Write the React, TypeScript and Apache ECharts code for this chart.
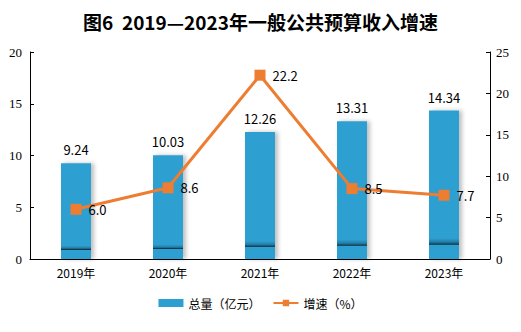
import React, { useEffect, useRef } from "react";
import * as echarts from "echarts";

const categories = ["2019年", "2020年", "2021年", "2022年", "2023年"];
const totals = [9.24, 10.03, 12.26, 13.31, 14.34];
const growth = [6.0, 8.6, 22.2, 8.5, 7.7];
const titleText = "图6  2019—2023年一般公共预算收入增速";
const barName = "总量（亿元）";
const lineName = "增速（%）";

const BLUE = "#2E9FD1";
const ORANGE = "#ED7D31";

export default function App() {
  const ref = useRef<HTMLDivElement>(null);
  useEffect(() => {
    if (!ref.current) return;
    const chart = echarts.init(ref.current, null, { renderer: "svg" });
    const barColor = new echarts.graphic.LinearGradient(0, 0, 0, 1, [
      { offset: 0, color: BLUE },
      { offset: 0.86, color: BLUE },
      { offset: 0.885, color: "#237fa8" },
      { offset: 0.895, color: "#155a78" },
      { offset: 0.9, color: "#0b2f40" },
      { offset: 0.908, color: BLUE },
      { offset: 1, color: BLUE },
    ]);
    chart.setOption({
      animation: false,
      title: {
        text: titleText,
        left: "center",
        top: 7,
        textStyle: {
          fontFamily: "Noto Sans CJK SC",
          fontWeight: "bold",
          fontSize: 19,
          color: "#000",
        },
      },
      legend: {
        bottom: 18,
        left: "center",
        itemWidth: 25,
        itemHeight: 8,
        itemGap: 12,
        textStyle: { fontFamily: "Noto Sans CJK SC", fontSize: 12, color: "#000" },
        data: [
          { name: barName, icon: "rect" },
          { name: lineName },
        ],
      },
      grid: { left: 30, right: 31, top: 52, bottom: 73, containLabel: false },
      xAxis: {
        type: "category",
        data: categories,
        axisLine: { lineStyle: { color: "#000", width: 1 } },
        axisTick: { inside: true, length: 4, lineStyle: { color: "#000" } },
        axisLabel: { fontFamily: "Noto Sans CJK SC", fontSize: 12, color: "#000", margin: 7 },
      },
      yAxis: [
        {
          type: "value",
          min: 0,
          max: 20,
          interval: 5,
          splitLine: { show: false },
          axisLine: { show: true, lineStyle: { color: "#000" } },
          axisTick: { show: true, inside: true, length: 4, lineStyle: { color: "#000" } },
          axisLabel: { fontFamily: "Liberation Serif", fontSize: 13, color: "#000", margin: 8 },
        },
        {
          type: "value",
          min: 0,
          max: 25,
          interval: 5,
          splitLine: { show: false },
          axisLine: { show: true, lineStyle: { color: "#000" } },
          axisTick: { show: true, inside: true, length: 4, lineStyle: { color: "#000" } },
          axisLabel: { fontFamily: "Liberation Serif", fontSize: 13, color: "#000", margin: 6 },
        },
      ],
      series: [
        {
          name: barName,
          type: "bar",
          data: totals,
          barWidth: 30,
          itemStyle: {
            color: barColor,
            shadowColor: "rgba(0,0,0,0.25)",
            shadowBlur: 4,
            shadowOffsetX: 3,
          },
          label: {
            show: true,
            position: "top",
            distance: 7,
            fontFamily: "Noto Sans CJK SC",
            fontSize: 13,
            color: "#000",
          },
          yAxisIndex: 0,
        },
        {
          name: lineName,
          type: "line",
          data: growth,
          yAxisIndex: 1,
          symbol: "rect",
          symbolSize: 11,
          lineStyle: { color: ORANGE, width: 3 },
          itemStyle: { color: ORANGE },
          label: {
            show: true,
            position: "right",
            distance: 7,
            fontFamily: "Noto Sans CJK SC",
            fontSize: 13,
            color: "#000",
            formatter: (p: any) => Number(p.value).toFixed(1),
          },
        },
      ],
    });
    return () => chart.dispose();
  }, []);
  return <div ref={ref} style={{ width: 521, height: 332, margin: -8 }} />;
}
